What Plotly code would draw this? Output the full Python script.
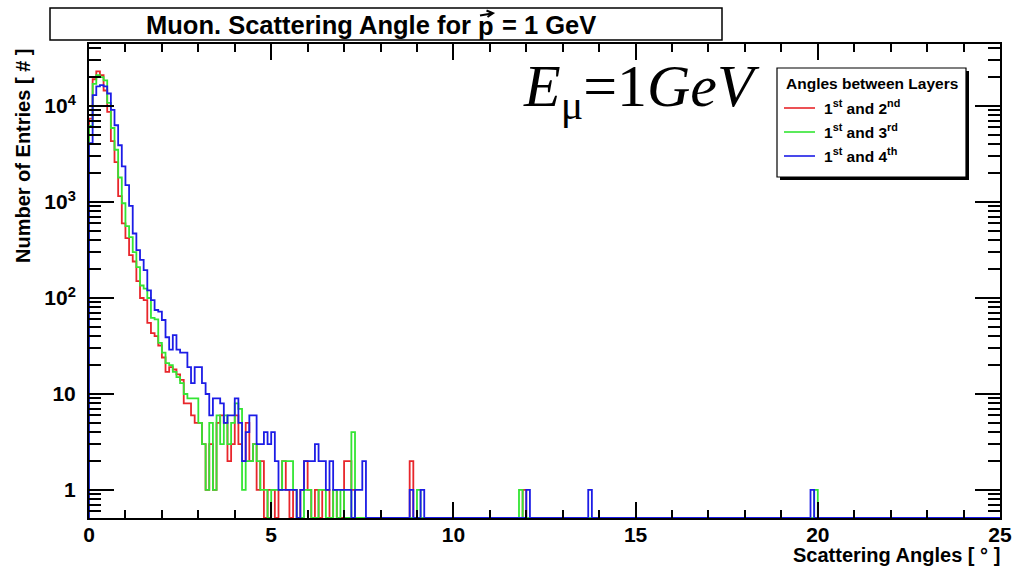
import numpy as np
import plotly.graph_objects as go

# ---------------------------------------------------------------------------
# Histogram contents: scattering angle in 0.1 degree bins from 0 to 25 degrees
# ---------------------------------------------------------------------------
BIN_WIDTH = 0.1
N_BINS = 250

# leading bins (0.0 - 8.0 deg)
red_head = [7400, 19000, 23000, 21000, 14500, 8700, 4300, 2600, 1150, 600,
            420, 280, 240, 150, 100, 95, 55, 43, 40, 32,
            24, 17, 19, 18, 16, 14, 8, 8, 6, 5,
            5, 3, 1, 3, 1, 5, 6, 5, 2, 3,
            6, 3, 2, 5, 2, 3, 1, 2, 0, 1,
            1, 0, 1, 2, 1, 0, 1, 0, 1, 2,
            1, 0, 1, 0, 1, 1, 0, 1, 0, 0,
            2, 2, 1, 0, 0, 0, 0, 0, 0, 0]
green_head = [6200, 17000, 21000, 20000, 18500, 10800, 5900, 3500, 1800, 970,
              560, 430, 300, 210, 135, 125, 100, 62, 60, 34,
              27, 21, 20, 17, 15, 13, 10, 9, 9, 9,
              5, 3, 1, 5, 1, 6, 3, 6, 3, 5,
              8, 7, 1, 2, 2, 3, 2, 1, 1, 0,
              1, 1, 1, 2, 2, 2, 1, 0, 0, 1,
              1, 0, 0, 1, 1, 0, 0, 1, 0, 1,
              0, 0, 4, 0, 0, 0, 0, 0, 0, 0]
blue_head = [4100, 13000, 16000, 16500, 16000, 13500, 9100, 6300, 3900, 2350,
             1500, 910, 470, 316, 250, 195, 120, 95, 75, 72,
             59, 39, 29, 41, 29, 27, 27, 19, 13, 19,
             19, 13, 10, 6, 9, 9, 8, 5, 6, 6,
             9, 5, 2, 4, 6, 6, 3, 3, 4, 3,
             4, 2, 1, 1, 1, 1, 1, 0, 1, 2,
             2, 2, 3, 2, 2, 1, 2, 1, 1, 1,
             1, 1, 0, 1, 1, 2, 0, 0, 0, 0]

# isolated entries further out in the tail: {bin index: count}
red_tail = {88: 2, 119: 1}
green_tail = {90: 1, 118: 1, 199: 1}
blue_tail = {88: 1, 91: 1, 120: 1, 137: 1, 198: 1}

series_names = ["1st and 2nd", "1st and 3rd", "1st and 4th"]
series_colors = ["#e8262b", "#33e533", "#1c1ce6"]

# axis limits
X_MIN, X_MAX = 0.0, 25.0
Y_LOG_MIN, Y_LOG_MAX = -0.292, 4.646
Y_FLOOR = 10 ** Y_LOG_MIN

x_major = [0, 5, 10, 15, 20, 25]
y_major = [1, 10, 100, 1000, 10000]
y_major_text = ["1", "10", "10<sup>2</sup>", "10<sup>3</sup>", "10<sup>4</sup>"]
y_minor = [m * 10.0 ** d for d in range(-1, 5) for m in range(2, 10)
           if Y_LOG_MIN < np.log10(m * 10.0 ** d) < Y_LOG_MAX]


def full_counts(head, tail):
    counts = np.zeros(N_BINS)
    counts[:len(head)] = head
    for k, v in tail.items():
        counts[k] = v
    return counts


edges = np.round(np.arange(N_BINS + 1) * BIN_WIDTH, 6)


def step_xy(counts):
    # empty bins sit on the bottom edge of the frame, as in a ROOT histogram
    y = np.maximum(counts, Y_FLOOR)
    xs = np.concatenate([[edges[0]], edges])
    ys = np.concatenate([[Y_FLOOR], y, [y[-1]]])
    return xs, ys


fig = go.Figure()
for head, tail, name, color in zip([red_head, green_head, blue_head],
                                   [red_tail, green_tail, blue_tail],
                                   series_names, series_colors):
    xs, ys = step_xy(full_counts(head, tail))
    fig.add_trace(go.Scatter(x=xs, y=ys, mode="lines", name=name,
                             line=dict(color=color, width=1.8, shape="hv"),
                             showlegend=False, hoverinfo="skip"))

# ---------------------------------------------------------------------------
# Layout
# ---------------------------------------------------------------------------
W, H = 1016, 566
L, R, T, B = 89, 1000, 44, 518   # frame in pixels


def px(xp):
    return (xp - L) / (R - L)


def py(yp):
    return (B - yp) / (B - T)


FONT = "Liberation Sans, Arial, Helvetica, sans-serif"
tick_font = dict(family=FONT, size=21, color="black", weight="bold")

fig.update_layout(
    template="none",
    width=W, height=H,
    margin=dict(l=L, r=W - R, t=T, b=H - B, pad=0),
    paper_bgcolor="white", plot_bgcolor="white",
    font=dict(family=FONT, color="black"),
    xaxis=dict(range=[X_MIN, X_MAX], tickmode="array", tickvals=x_major,
               automargin=False,
               ticks="inside", ticklen=16, tickwidth=1.5, tickcolor="black",
               showline=True, linecolor="black", linewidth=2, mirror="ticks",
               showgrid=False, zeroline=False, tickfont=tick_font,
               ticklabelstandoff=-3,
               minor=dict(dtick=1, tick0=0, ticks="inside", ticklen=8,
                          tickwidth=1.5, tickcolor="black", showgrid=False)),
    yaxis=dict(type="log", range=[Y_LOG_MIN, Y_LOG_MAX], tickmode="array",
               tickvals=y_major, ticktext=y_major_text,
               automargin=False,
               ticks="inside", ticklen=25, tickwidth=1.5, tickcolor="black",
               showline=True, linecolor="black", linewidth=2, mirror="ticks",
               showgrid=False, zeroline=False, tickfont=tick_font,
               ticklabelstandoff=7,
               minor=dict(tickmode="array", tickvals=y_minor, ticks="inside",
                          ticklen=12, tickwidth=1.5, tickcolor="black",
                          showgrid=False)),
)

shapes = []
annotations = []


def ppath(points):
    """SVG path in paper units from a list of pixel points."""
    return "M " + " L ".join(f"{px(a):.5f},{py(b):.5f}" for a, b in points)


# title box: text split around the momentum symbol so an arrow can sit on the p
title_font = dict(family=FONT, size=25.5, weight="bold")
shapes.append(dict(type="rect", xref="paper", yref="paper",
                   x0=px(50), x1=px(722), y0=py(40), y1=py(8),
                   line=dict(color="black", width=1.5), fillcolor="white"))
annotations.append(dict(xref="paper", yref="paper", x=px(473), y=py(25),
                        text="Muon. Scattering Angle for", showarrow=False,
                        xanchor="right", yanchor="middle", font=title_font))
annotations.append(dict(xref="paper", yref="paper", x=px(486), y=py(26),
                        text="p", showarrow=False,
                        xanchor="center", yanchor="middle", font=title_font))
# vector arrow over the p
shapes.append(dict(type="path", xref="paper", yref="paper",
                   path=ppath([(480, 15.5), (492, 13.5)]),
                   line=dict(color="black", width=2)))
shapes.append(dict(type="path", xref="paper", yref="paper",
                   path=ppath([(486.5, 10.5), (493, 13.3), (487.5, 17)]),
                   line=dict(color="black", width=2)))
annotations.append(dict(xref="paper", yref="paper", x=px(500), y=py(25),
                        text="= 1 GeV", showarrow=False,
                        xanchor="left", yanchor="middle", font=title_font))

# axis titles
annotations.append(dict(xref="paper", yref="paper", x=px(1002), y=py(555),
                        text="Scattering Angles [ \u00b0 ]", showarrow=False,
                        xanchor="right", yanchor="middle",
                        font=dict(family=FONT, size=20, weight="bold")))
annotations.append(dict(xref="paper", yref="paper", x=px(23), y=py(47),
                        text="Number of Entries [ # ]", showarrow=False,
                        textangle=-90, xanchor="center", yanchor="top",
                        font=dict(family=FONT, size=20, weight="bold")))

# energy label
annotations.append(dict(xref="paper", yref="paper", x=px(641), y=py(90),
                        text="<i>E</i><sub>\u03bc</sub>=1<i>GeV</i>",
                        showarrow=False, xanchor="center", yanchor="middle",
                        font=dict(family="Liberation Serif, DejaVu Serif, serif",
                                  size=60, color="black")))

# legend box with shadow
lx0, lx1, ly0, ly1 = 777, 966, 68, 177
shapes.append(dict(type="rect", xref="paper", yref="paper",
                   x0=px(lx0 + 3), x1=px(lx1 + 3), y0=py(ly1 + 3), y1=py(ly0 + 3),
                   line=dict(width=0), fillcolor="black"))
shapes.append(dict(type="rect", xref="paper", yref="paper",
                   x0=px(lx0), x1=px(lx1), y0=py(ly1), y1=py(ly0),
                   line=dict(color="black", width=1.2), fillcolor="white"))
annotations.append(dict(xref="paper", yref="paper", x=px((lx0 + lx1) / 2), y=py(83),
                        text="Angles between Layers", showarrow=False,
                        xanchor="center", yanchor="middle",
                        font=dict(family=FONT, size=15.5, weight="bold")))
legend_text = ["1<sup>st</sup> and 2<sup>nd</sup>",
               "1<sup>st</sup> and 3<sup>rd</sup>",
               "1<sup>st</sup> and 4<sup>th</sup>"]
for i, (label, color) in enumerate(zip(legend_text, series_colors)):
    yy = 108 + 24 * i
    shapes.append(dict(type="line", xref="paper", yref="paper",
                       x0=px(784), x1=px(815), y0=py(yy), y1=py(yy),
                       line=dict(color=color, width=1.6)))
    annotations.append(dict(xref="paper", yref="paper", x=px(822), y=py(yy - 1),
                            text=label, showarrow=False,
                            xanchor="left", yanchor="middle",
                            font=dict(family=FONT, size=15.5, weight="bold")))

fig.update_layout(shapes=shapes, annotations=annotations)

fig.write_html("out.html")
